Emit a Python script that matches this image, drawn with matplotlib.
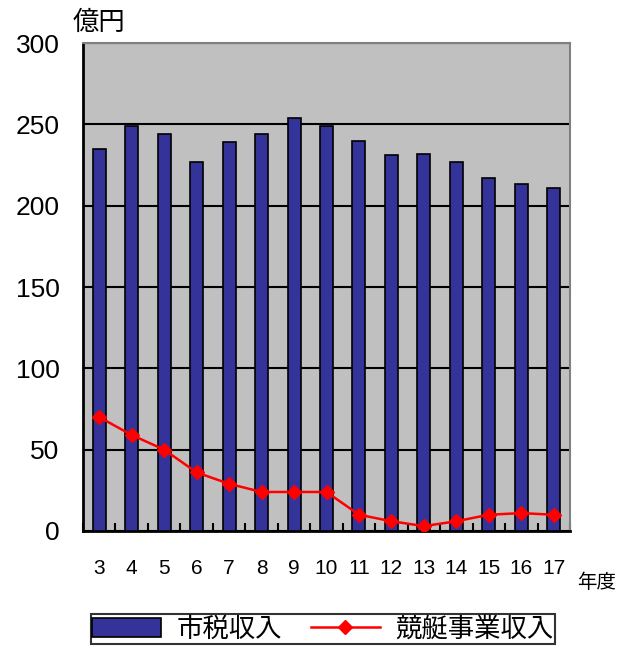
import matplotlib
matplotlib.use("Agg")
import matplotlib.pyplot as plt
import numpy as np

plt.rcParams['font.family'] = ['Noto Sans CJK JP', 'DejaVu Sans']

years = ['3', '4', '5', '6', '7', '8', '9', '10', '11', '12', '13', '14', '15', '16', '17']
city_tax = [235, 249, 244, 227, 239, 244, 254, 249, 240, 231, 232, 227, 217, 213.5, 211]
boat_race = [70, 59, 50, 36, 29, 24, 24, 24, 10, 6, 3, 6, 10, 11, 10]
y_ticks = [0, 50, 100, 150, 200, 250, 300]

fig = plt.figure(figsize=(6.19, 6.46), dpi=100)
ax = fig.add_axes([83/619, 1-531/646, 487/619, 488/646])
ax.set_facecolor('#C0C0C0')

x = np.arange(len(years))
bars = ax.bar(x, city_tax, width=0.4, color='#333399', edgecolor='black', linewidth=1.2,
              label='市税収入', zorder=3)
line, = ax.plot(x, boat_race, color='#FF0000', marker='D', markersize=7, linewidth=1.8,
                label='競艇事業収入', zorder=4)

ax.set_xlim(-0.5, len(years) - 0.5)
ax.set_ylim(0, 300)
ax.set_yticks(y_ticks)
ax.set_yticklabels([str(v) for v in y_ticks], fontsize=19, family=['Liberation Sans', 'DejaVu Sans'])
ax.yaxis.grid(True, color='black', linewidth=1.5, zorder=1)
ax.set_axisbelow(True)
ax.tick_params(axis='y', length=0, pad=17)

ax.set_xticks(x)
ax.set_xticklabels(years, fontsize=15, family=['Liberation Sans', 'DejaVu Sans'])
ax.tick_params(axis='x', which='major', length=0, pad=20)
ax.set_xticks(np.arange(-0.5, len(years), 1.0), minor=True)
ax.tick_params(axis='x', which='minor', direction='in', length=6, width=1.5, color='black')

for s in ['left', 'bottom']:
    ax.spines[s].set_color('black')
    ax.spines[s].set_linewidth(2)
for s in ['top', 'right']:
    ax.spines[s].set_color('#808080')
    ax.spines[s].set_linewidth(1.5)

fig.text(73/619, 1-22/646, '億円', fontsize=19, ha='left', va='center')
fig.text(577/619, 1-583/646, '年度', fontsize=14, ha='left', va='center')

leg = fig.legend([bars, line], ['市税収入', '競艇事業収入'],
                 loc='upper center', bbox_to_anchor=(323/619, 1-601/646), ncol=2,
                 fontsize=19, frameon=True, fancybox=False, edgecolor='black',
                 handlelength=2.6, columnspacing=1.1, borderpad=0.05, handletextpad=0.6)
leg.get_frame().set_linewidth(1.5)

fig.savefig('out.png', dpi=100)
